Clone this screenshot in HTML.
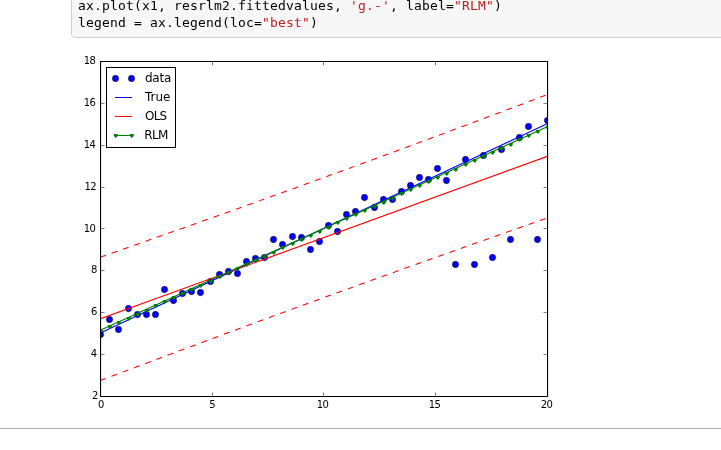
<!DOCTYPE html>
<html lang="en"><head><meta charset="utf-8"><title>notebook</title>
<style>
html,body{margin:0;padding:0;background:#fff;}
body{width:721px;height:450px;position:relative;overflow:hidden;}
.cell{position:absolute;left:71px;top:-39px;width:900px;height:77px;box-sizing:border-box;background:#f7f7f7;border:1px solid #cfcfcf;border-radius:4px;}
.code{position:absolute;left:78px;top:-3px;margin:0;font-family:'DejaVu Sans Mono','Liberation Mono',monospace;font-size:13px;line-height:17px;letter-spacing:0.174px;color:#000;white-space:pre;}
.s{color:#ba2121;}
.rule{position:absolute;left:0;top:428px;width:721px;height:1px;background:#ababab;}
svg{position:absolute;left:0;top:0;}
svg text{font-family:'DejaVu Sans','Bitstream Vera Sans','Liberation Sans',sans-serif;font-size:12px;fill:#000;}
svg text.t{font-size:10px;}
svg text.d{letter-spacing:-0.6px;}
</style></head><body>
<div class="cell"></div>
<pre class="code">ax.plot(x1, resrlm2.fittedvalues, <span class="s">'g.-'</span>, label=<span class="s">"RLM"</span>)
legend = ax.legend(loc=<span class="s">"best"</span>)</pre>
<div class="rule"></div>
<svg width="721" height="450" viewBox="0 0 721 450">
<defs><clipPath id="ax"><rect x="100.5" y="61.5" width="447" height="335"/></clipPath></defs>
<g clip-path="url(#ax)">
<g fill="#0000ff" stroke="#000" stroke-width="0.5"><circle cx="100.5" cy="334.5" r="3.15"/><circle cx="109.5" cy="319.5" r="3.15"/><circle cx="118.5" cy="329.5" r="3.15"/><circle cx="128.5" cy="308.5" r="3.15"/><circle cx="137.5" cy="314.5" r="3.15"/><circle cx="146.5" cy="314.5" r="3.15"/><circle cx="155.5" cy="314.5" r="3.15"/><circle cx="164.5" cy="289.5" r="3.15"/><circle cx="173.5" cy="300.5" r="3.15"/><circle cx="182.5" cy="293.5" r="3.15"/><circle cx="191.5" cy="291.5" r="3.15"/><circle cx="200.5" cy="292.5" r="3.15"/><circle cx="210.5" cy="281.5" r="3.15"/><circle cx="219.5" cy="274.5" r="3.15"/><circle cx="228.5" cy="271.5" r="3.15"/><circle cx="237.5" cy="273.5" r="3.15"/><circle cx="246.5" cy="261.5" r="3.15"/><circle cx="255.5" cy="258.5" r="3.15"/><circle cx="264.5" cy="257.5" r="3.15"/><circle cx="273.5" cy="239.5" r="3.15"/><circle cx="282.5" cy="244.5" r="3.15"/><circle cx="292.5" cy="236.5" r="3.15"/><circle cx="301.5" cy="237.5" r="3.15"/><circle cx="310.5" cy="249.5" r="3.15"/><circle cx="319.5" cy="241.5" r="3.15"/><circle cx="328.5" cy="225.5" r="3.15"/><circle cx="337.5" cy="231.5" r="3.15"/><circle cx="346.5" cy="214.5" r="3.15"/><circle cx="355.5" cy="211.5" r="3.15"/><circle cx="364.5" cy="197.5" r="3.15"/><circle cx="374.5" cy="207.5" r="3.15"/><circle cx="383.5" cy="199.5" r="3.15"/><circle cx="392.5" cy="199.5" r="3.15"/><circle cx="401.5" cy="191.5" r="3.15"/><circle cx="410.5" cy="185.5" r="3.15"/><circle cx="419.5" cy="177.5" r="3.15"/><circle cx="428.5" cy="179.5" r="3.15"/><circle cx="437.5" cy="168.5" r="3.15"/><circle cx="446.5" cy="180.5" r="3.15"/><circle cx="455.5" cy="264.5" r="3.15"/><circle cx="465.5" cy="159.5" r="3.15"/><circle cx="474.5" cy="264.5" r="3.15"/><circle cx="483.5" cy="155.5" r="3.15"/><circle cx="492.5" cy="257.5" r="3.15"/><circle cx="501.5" cy="149.5" r="3.15"/><circle cx="510.5" cy="239.5" r="3.15"/><circle cx="519.5" cy="137.5" r="3.15"/><circle cx="528.5" cy="126.5" r="3.15"/><circle cx="537.5" cy="239.5" r="3.15"/><circle cx="547.5" cy="120.5" r="3.15"/></g>
<line x1="100.20" y1="333.00" x2="546.60" y2="124.00" stroke="#0000ff" stroke-width="1.15" stroke-linecap="square"/>
<line x1="100.20" y1="318.90" x2="546.60" y2="156.55" stroke="#ff0000" stroke-width="1.15" stroke-linecap="square"/>
<polyline points="100.20,257.20 109.31,254.02 118.42,250.83 127.53,247.64 136.64,244.44 145.75,241.24 154.86,238.03 163.97,234.82 173.08,231.60 182.19,228.38 191.30,225.15 200.41,221.91 209.52,218.67 218.63,215.43 227.74,212.18 236.85,208.92 245.96,205.66 255.07,202.39 264.18,199.11 273.29,195.84 282.40,192.55 291.51,189.26 300.62,185.96 309.73,182.66 318.84,179.35 327.96,176.04 337.07,172.72 346.18,169.40 355.29,166.07 364.40,162.73 373.51,159.39 382.62,156.04 391.73,152.69 400.84,149.33 409.95,145.97 419.06,142.60 428.17,139.22 437.28,135.84 446.39,132.46 455.50,129.06 464.61,125.67 473.72,122.26 482.83,118.86 491.94,115.44 501.05,112.02 510.16,108.60 519.27,105.17 528.38,101.74 537.49,98.30 546.60,94.85" fill="none" stroke="#ff0000" stroke-width="1.05" stroke-dasharray="6 6"/>
<polyline points="100.20,380.60 109.31,377.15 118.42,373.71 127.53,370.28 136.64,366.85 145.75,363.43 154.86,360.01 163.97,356.59 173.08,353.19 182.19,349.78 191.30,346.39 200.41,342.99 209.52,339.61 218.63,336.23 227.74,332.85 236.85,329.48 245.96,326.12 255.07,322.76 264.18,319.41 273.29,316.06 282.40,312.72 291.51,309.38 300.62,306.05 309.73,302.73 318.84,299.41 327.96,296.10 337.07,292.79 346.18,289.49 355.29,286.19 364.40,282.90 373.51,279.61 382.62,276.34 391.73,273.06 400.84,269.79 409.95,266.53 419.06,263.27 428.17,260.02 437.28,256.78 446.39,253.54 455.50,250.30 464.61,247.07 473.72,243.85 482.83,240.63 491.94,237.42 501.05,234.21 510.16,231.01 519.27,227.81 528.38,224.62 537.49,221.43 546.60,218.25" fill="none" stroke="#ff0000" stroke-width="1.05" stroke-dasharray="6 6"/>
<line x1="100.20" y1="330.40" x2="546.60" y2="127.00" stroke="#008000" stroke-width="1.15" stroke-linecap="square"/>
<g fill="#008000"><path d="M98.9 329.0h3.8v2.1l-1.9 2l-1.9 -2z"/><path d="M107.9 325.0h3.8v2.1l-1.9 2l-1.9 -2z"/><path d="M116.9 321.0h3.8v2.1l-1.9 2l-1.9 -2z"/><path d="M126.9 317.0h3.8v2.1l-1.9 2l-1.9 -2z"/><path d="M135.9 313.0h3.8v2.1l-1.9 2l-1.9 -2z"/><path d="M144.9 309.0h3.8v2.1l-1.9 2l-1.9 -2z"/><path d="M153.9 304.0h3.8v2.1l-1.9 2l-1.9 -2z"/><path d="M162.9 300.0h3.8v2.1l-1.9 2l-1.9 -2z"/><path d="M171.9 296.0h3.8v2.1l-1.9 2l-1.9 -2z"/><path d="M180.9 292.0h3.8v2.1l-1.9 2l-1.9 -2z"/><path d="M189.9 288.0h3.8v2.1l-1.9 2l-1.9 -2z"/><path d="M198.9 284.0h3.8v2.1l-1.9 2l-1.9 -2z"/><path d="M208.9 280.0h3.8v2.1l-1.9 2l-1.9 -2z"/><path d="M217.9 275.0h3.8v2.1l-1.9 2l-1.9 -2z"/><path d="M226.9 271.0h3.8v2.1l-1.9 2l-1.9 -2z"/><path d="M235.9 267.0h3.8v2.1l-1.9 2l-1.9 -2z"/><path d="M244.9 263.0h3.8v2.1l-1.9 2l-1.9 -2z"/><path d="M253.9 259.0h3.8v2.1l-1.9 2l-1.9 -2z"/><path d="M262.9 255.0h3.8v2.1l-1.9 2l-1.9 -2z"/><path d="M271.9 251.0h3.8v2.1l-1.9 2l-1.9 -2z"/><path d="M280.9 246.0h3.8v2.1l-1.9 2l-1.9 -2z"/><path d="M290.9 242.0h3.8v2.1l-1.9 2l-1.9 -2z"/><path d="M299.9 238.0h3.8v2.1l-1.9 2l-1.9 -2z"/><path d="M308.9 234.0h3.8v2.1l-1.9 2l-1.9 -2z"/><path d="M317.9 230.0h3.8v2.1l-1.9 2l-1.9 -2z"/><path d="M326.9 226.0h3.8v2.1l-1.9 2l-1.9 -2z"/><path d="M335.9 221.0h3.8v2.1l-1.9 2l-1.9 -2z"/><path d="M344.9 217.0h3.8v2.1l-1.9 2l-1.9 -2z"/><path d="M353.9 213.0h3.8v2.1l-1.9 2l-1.9 -2z"/><path d="M362.9 209.0h3.8v2.1l-1.9 2l-1.9 -2z"/><path d="M372.9 205.0h3.8v2.1l-1.9 2l-1.9 -2z"/><path d="M381.9 201.0h3.8v2.1l-1.9 2l-1.9 -2z"/><path d="M390.9 197.0h3.8v2.1l-1.9 2l-1.9 -2z"/><path d="M399.9 192.0h3.8v2.1l-1.9 2l-1.9 -2z"/><path d="M408.9 188.0h3.8v2.1l-1.9 2l-1.9 -2z"/><path d="M417.9 184.0h3.8v2.1l-1.9 2l-1.9 -2z"/><path d="M426.9 180.0h3.8v2.1l-1.9 2l-1.9 -2z"/><path d="M435.9 176.0h3.8v2.1l-1.9 2l-1.9 -2z"/><path d="M444.9 172.0h3.8v2.1l-1.9 2l-1.9 -2z"/><path d="M453.9 168.0h3.8v2.1l-1.9 2l-1.9 -2z"/><path d="M463.9 163.0h3.8v2.1l-1.9 2l-1.9 -2z"/><path d="M472.9 159.0h3.8v2.1l-1.9 2l-1.9 -2z"/><path d="M481.9 155.0h3.8v2.1l-1.9 2l-1.9 -2z"/><path d="M490.9 151.0h3.8v2.1l-1.9 2l-1.9 -2z"/><path d="M499.9 147.0h3.8v2.1l-1.9 2l-1.9 -2z"/><path d="M508.9 143.0h3.8v2.1l-1.9 2l-1.9 -2z"/><path d="M517.9 138.0h3.8v2.1l-1.9 2l-1.9 -2z"/><path d="M526.9 134.0h3.8v2.1l-1.9 2l-1.9 -2z"/><path d="M535.9 130.0h3.8v2.1l-1.9 2l-1.9 -2z"/><path d="M545.9 126.0h3.8v2.1l-1.9 2l-1.9 -2z"/></g>
</g>
<path d="M100 61.5H548M100.55 61V397M547.55 61V397M100 396.45H548" fill="none" stroke="#000" stroke-width="1.1"/>
<path d="M100.50 396.5v-4M100.50 61.5v4M212.50 396.5v-4M212.50 61.5v4M323.50 396.5v-4M323.50 61.5v4M435.50 396.5v-4M435.50 61.5v4M547.50 396.5v-4M547.50 61.5v4M100.5 61.50h4M547.5 61.50h-4M100.5 103.50h4M547.5 103.50h-4M100.5 145.50h4M547.5 145.50h-4M100.5 187.50h4M547.5 187.50h-4M100.5 228.50h4M547.5 228.50h-4M100.5 270.50h4M547.5 270.50h-4M100.5 312.50h4M547.5 312.50h-4M100.5 354.50h4M547.5 354.50h-4M100.5 396.50h4M547.5 396.50h-4" stroke="#000" stroke-width="0.5" fill="none"/>
<text class="t" x="101.15" y="408" text-anchor="middle">0</text>
<text class="t" x="212.35" y="408" text-anchor="middle">5</text>
<text class="t d" x="322.60" y="408" text-anchor="middle">10</text>
<text class="t d" x="434.55" y="408" text-anchor="middle">15</text>
<text class="t d" x="546.55" y="408" text-anchor="middle">20</text>
<text class="t d" x="89.40" y="64" text-anchor="middle">18</text>
<text class="t d" x="89.40" y="106" text-anchor="middle">16</text>
<text class="t d" x="89.40" y="148" text-anchor="middle">14</text>
<text class="t d" x="90.35" y="190" text-anchor="middle">12</text>
<text class="t d" x="89.40" y="232" text-anchor="middle">10</text>
<text class="t" x="94.15" y="273" text-anchor="middle">8</text>
<text class="t" x="94.25" y="315" text-anchor="middle">6</text>
<text class="t" x="94.00" y="357" text-anchor="middle">4</text>
<text class="t" x="95.10" y="399" text-anchor="middle">2</text>
<rect x="106.5" y="67.5" width="69" height="80" fill="#fff" stroke="#000" stroke-width="1"/>
<g fill="#0000ff" stroke="#000" stroke-width="0.5"><circle cx="115.5" cy="78.5" r="3.15"/><circle cx="131.5" cy="78.5" r="3.15"/></g>
<line x1="115" y1="97.5" x2="132" y2="97.5" stroke="#0000ff" stroke-width="1"/>
<line x1="115" y1="116.5" x2="132" y2="116.5" stroke="#ff0000" stroke-width="1"/>
<line x1="115" y1="135.5" x2="132" y2="135.5" stroke="#008000" stroke-width="1"/>
<g fill="#008000"><path d="M113.9 134.0h3.8v2.1l-1.9 2l-1.9 -2z"/><path d="M129.9 134.0h3.8v2.1l-1.9 2l-1.9 -2z"/></g>
<text x="145" y="82" style="letter-spacing:-0.25px">data</text>
<text x="145" y="101">True</text>
<text x="145" y="120" style="letter-spacing:-0.8px">OLS</text>
<text x="144.2" y="139" style="letter-spacing:-0.65px">RLM</text>
</svg>
</body></html>
